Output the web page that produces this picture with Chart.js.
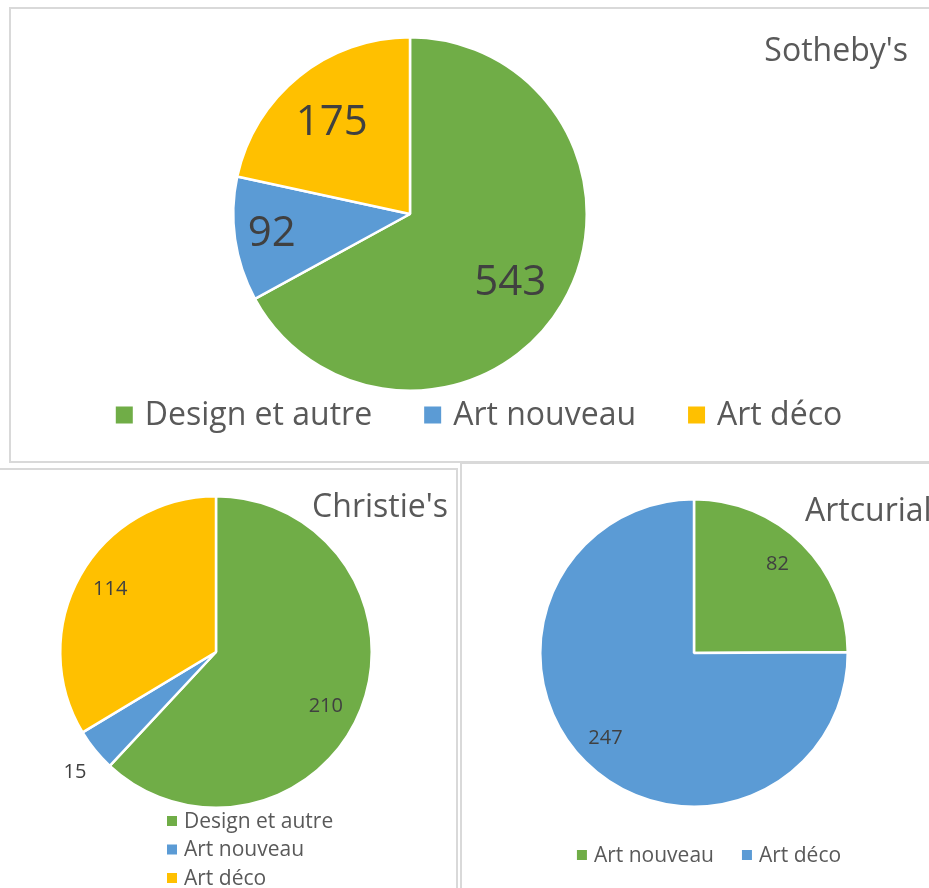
<!DOCTYPE html>
<html>
<head>
<meta charset="utf-8">
<script src="https://cdn.jsdelivr.net/npm/chart.js@4.4.1/dist/chart.umd.min.js"></script>
<style>
  html, body { margin: 0; padding: 0; background: #fff; }
  body { width: 929px; height: 888px; position: relative; overflow: hidden; font-family: "Open Sans", sans-serif; }
  .panel { position: absolute; border: 2px solid #d9d9d9; box-sizing: border-box; background: #fff; }
  canvas { position: absolute; }
</style>
</head>
<body>
<div class="panel" style="left:9px; top:7px; width:940px; height:456px;"></div>
<div class="panel" style="left:-10px; top:468px; width:468px; height:440px;"></div>
<div class="panel" style="left:460px; top:462px; width:480px; height:440px;"></div>

<div style="position:absolute; left:12px; top:10px; width:917px; height:450px;"><canvas id="c1"></canvas></div>
<div style="position:absolute; left:0px; top:471px; width:456px; height:417px;"><canvas id="c2"></canvas></div>
<div style="position:absolute; left:463px; top:465px; width:466px; height:423px;"><canvas id="c3"></canvas></div>

<script>
// ---- Data ----
const sothebysLabels = ["Design et autre", "Art nouveau", "Art déco"];
const sothebysValues = [543, 92, 175];

const christiesLabels = ["Design et autre", "Art nouveau", "Art déco"];
const christiesValues = [210, 15, 114];

const artcurialLabels = ["Art nouveau", "Art déco"];
const artcurialValues = [82, 247];

const GREEN = "#70AD47", BLUE = "#5B9BD5", YELLOW = "#FFC000";
const FONT = '"Open Sans", sans-serif';

// Plugin: data labels, title and legend drawn from the chart's own data/elements
const decorPlugin = {
  id: "decor",
  afterDraw(chart, args, opts) {
    const ctx = chart.ctx;
    const meta = chart.getDatasetMeta(0);
    const ds = chart.data.datasets[0];
    ctx.save();
    // data labels
    ctx.fillStyle = "#404040";
    ctx.font = opts.labelSize + "px " + FONT;
    ctx.textAlign = "center";
    ctx.textBaseline = "middle";
    meta.data.forEach((arc, i) => {
      const p = arc.getProps(["x", "y", "startAngle", "endAngle", "outerRadius"], true);
      const mid = (p.startAngle + p.endAngle) / 2 + (opts.labelAngle[i] || 0) * Math.PI / 180;
      const r = p.outerRadius * opts.labelDist[i];
      ctx.fillText(String(ds.data[i]), p.x + Math.cos(mid) * r, p.y + Math.sin(mid) * r);
    });
    // title
    ctx.fillStyle = "#595959";
    ctx.font = opts.titleSize + "px " + FONT;
    ctx.textAlign = opts.titleAlign;
    ctx.fillText(opts.title, opts.titleX, opts.titleY);
    // legend
    ctx.font = opts.legendSize + "px " + FONT;
    ctx.textAlign = "left";
    const labels = chart.data.labels;
    if (opts.legendVertical) {
      labels.forEach((lab, i) => {
        const y = opts.legendY + i * opts.legendRow;
        ctx.fillStyle = ds.backgroundColor[i];
        ctx.fillRect(opts.legendX, y - opts.box / 2, opts.box, opts.box);
        ctx.fillStyle = "#595959";
        ctx.fillText(lab, opts.legendX + opts.box + opts.boxGap, y + 1);
      });
    } else {
      const widths = labels.map(l => opts.box + opts.boxGap + ctx.measureText(l).width);
      const total = widths.reduce((a, b) => a + b, 0) + opts.itemGap * (labels.length - 1);
      let x = opts.legendCenter - total / 2;
      labels.forEach((lab, i) => {
        ctx.fillStyle = ds.backgroundColor[i];
        ctx.fillRect(x, opts.legendY - opts.box / 2, opts.box, opts.box);
        ctx.fillStyle = "#595959";
        ctx.fillText(lab, x + opts.box + opts.boxGap, opts.legendY + 1);
        x += widths[i] + opts.itemGap;
      });
    }
    ctx.restore();
  }
};

function makePie(id, labels, values, colors, padding, decor) {
  return new Chart(document.getElementById(id), {
    type: "pie",
    data: {
      labels: labels,
      datasets: [{
        data: values,
        backgroundColor: colors,
        borderColor: "#ffffff",
        borderWidth: 2.5
      }]
    },
    options: {
      responsive: true,
      maintainAspectRatio: false,
      animation: false,
      layout: { padding: padding },
      plugins: {
        legend: { display: false },
        tooltip: { enabled: false },
        title: { display: false },
        decor: decor
      }
    },
    plugins: [decorPlugin]
  });
}

makePie("c1", sothebysLabels, sothebysValues, [GREEN, BLUE, YELLOW],
  { left: 220, right: 341, top: 26, bottom: 68 },
  { labelSize: 42, labelDist: [0.69, 0.79, 0.68], labelAngle: [4, 0, -1.7],
    title: "Sotheby's", titleSize: 32, titleAlign: "right", titleX: 896, titleY: 42,
    legendSize: 32, legendVertical: false, legendY: 405, legendCenter: 467,
    box: 17, boxGap: 12, itemGap: 52 });

makePie("c2", christiesLabels, christiesValues, [GREEN, BLUE, YELLOW],
  { left: 59, right: 83, top: 24, bottom: 79 },
  { labelSize: 20, labelDist: [0.785, 1.19, 0.79], labelAngle: [4.6, -1.4, 1.3],
    title: "Christie's", titleSize: 32, titleAlign: "right", titleX: 448, titleY: 37,
    legendSize: 21, legendVertical: true, legendX: 167, legendY: 350, legendRow: 28.5,
    box: 10, boxGap: 7 });

makePie("c3", artcurialLabels, artcurialValues, [GREEN, BLUE],
  { left: 76, right: 80, top: 33, bottom: 80 },
  { labelSize: 20, labelDist: [0.79, 0.80], labelAngle: [-1.5, 1.2],
    title: "Artcurial", titleSize: 32, titleAlign: "left", titleX: 342, titleY: 47,
    legendSize: 21, legendVertical: false, legendY: 390, legendCenter: 246,
    box: 10, boxGap: 7, itemGap: 28 });
</script>
</body>
</html>
